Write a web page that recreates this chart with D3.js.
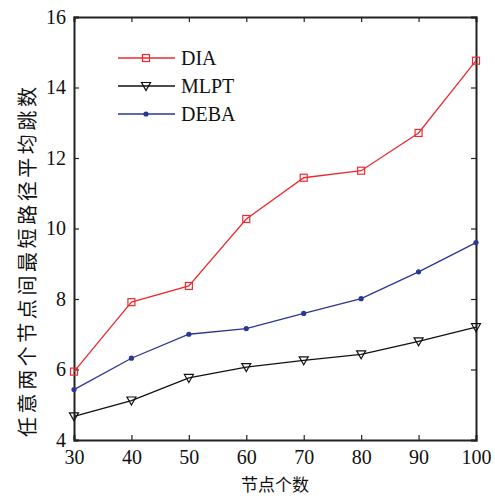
<!DOCTYPE html>
<html><head><meta charset="utf-8">
<script src="https://cdn.jsdelivr.net/npm/d3@7"></script>
<style>body{margin:0;background:#fff}
.serif{font-family:"Liberation Serif","Times New Roman",serif}
.cjk{font-family:"Noto Sans CJK SC",sans-serif}
</style>
</head><body>
<svg id="c" width="495" height="496"></svg>
<script>
const nodes = [30, 40, 50, 60, 70, 80, 90, 100];
const dia  = [5.94, 7.91, 8.37, 10.27, 11.44, 11.64, 12.71, 14.76];
const mlpt = [4.67, 5.12, 5.76, 6.07, 6.26, 6.43, 6.80, 7.20];
const deba = [5.43, 6.32, 7.00, 7.16, 7.59, 8.01, 8.77, 9.60];
const yTicks = [4, 6, 8, 10, 12, 14, 16];
const seriesNames = ["DIA", "MLPT", "DEBA"];
const xLabel = "节点个数";
const yLabel = "任意两个节点间最短路径平均跳数";

const svg = d3.select("#c");
const L = 74, R = 476, T = 17, B = 440;
const x = d3.scaleLinear().domain([30, 100]).range([L, R]);
const y = d3.scaleLinear().domain([4, 16]).range([B, T]);

// axes
const axB = d3.axisBottom(x).tickValues(nodes).tickSize(-5).tickPadding(10);
const axT = d3.axisTop(x).tickValues(nodes).tickSize(-5).tickFormat("");
const axLf = d3.axisLeft(y).tickValues(yTicks).tickSize(-5).tickPadding(8);
const axRt = d3.axisRight(y).tickValues(yTicks).tickSize(-5).tickFormat("");
function style(g){
  g.attr("font-family",null).attr("font-size",null);
  g.select(".domain").attr("stroke","#222").attr("stroke-width",2);
  g.selectAll(".tick line").attr("stroke","#222").attr("stroke-width",1.2);
  g.selectAll(".tick text").attr("class","serif").style("font-size","20px").attr("fill","#111");
}
svg.append("g").attr("transform",`translate(0,${B})`).call(axB).call(style);
svg.append("g").attr("transform",`translate(0,${T})`).call(axT).call(style);
svg.append("g").attr("transform",`translate(${L},0)`).call(axLf).call(style);
svg.append("g").attr("transform",`translate(${R},0)`).call(axRt).call(style);

// labels
svg.append("text").attr("class","cjk").attr("x",(L+R)/2).attr("y",491).attr("text-anchor","middle")
  .style("font-size","17px").attr("fill","#111").text(xLabel);
svg.append("text").attr("class","cjk").attr("transform",`translate(35,262) rotate(-90)`).attr("text-anchor","middle")
  .style("font-size","20px").attr("fill","#111")
  .attr("textLength",350).attr("lengthAdjust","spacing").text(yLabel);

const colors = ["#ee2a2f", "#111111", "#2a3795"];
const data = [dia, mlpt, deba];
const line = d3.line().x((d,i)=>x(nodes[i])).y(d=>y(d));

function marker(g, k, cx, cy){
  if(k===0){
    g.append("rect").attr("x",cx-3.5).attr("y",cy-3.5).attr("width",7).attr("height",7)
      .attr("fill","none").attr("stroke",colors[0]).attr("stroke-width",1.2);
  } else if(k===1){
    g.append("path").attr("d",`M${cx-4.5},${cy-3.5}L${cx+4.5},${cy-3.5}L${cx},${cy+4.5}Z`)
      .attr("fill","none").attr("stroke",colors[1]).attr("stroke-width",1.2);
  } else {
    g.append("circle").attr("cx",cx).attr("cy",cy).attr("r",2.6).attr("fill",colors[2]);
  }
}

data.forEach((s,k)=>{
  svg.append("path").datum(s).attr("d",line).attr("fill","none")
    .attr("stroke",colors[k]).attr("stroke-width",1.3);
  const g = svg.append("g");
  s.forEach((v,i)=>marker(g,k,x(nodes[i]),y(v)));
});

// legend
const legY = [58, 86, 114];
seriesNames.forEach((n,k)=>{
  svg.append("line").attr("x1",118).attr("x2",175).attr("y1",legY[k]).attr("y2",legY[k])
    .attr("stroke",colors[k]).attr("stroke-width",1.3);
  marker(svg.append("g"),k,146,legY[k]);
  svg.append("text").attr("class","serif").attr("x",181).attr("y",legY[k]+6.5)
    .style("font-size","20px").attr("fill","#111").text(n);
});
</script>
</body></html>
